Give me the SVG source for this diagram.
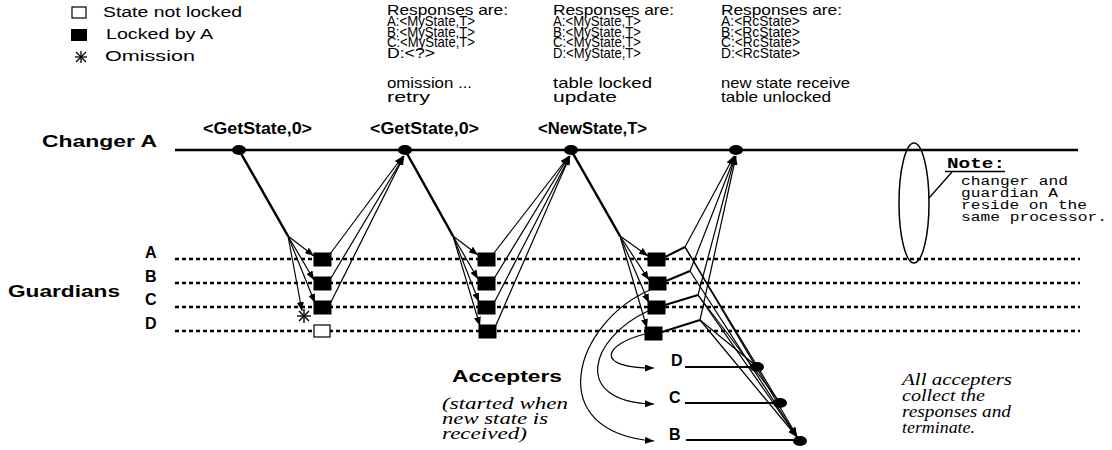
<svg xmlns="http://www.w3.org/2000/svg" width="1112" height="450" viewBox="0 0 1112 450">
<style>
.s{font-family:"Liberation Sans",Arial,sans-serif;fill:#000}
.b{font-family:"Liberation Sans",Arial,sans-serif;font-weight:bold;fill:#000}
.i{font-family:"Liberation Serif","Times New Roman",serif;font-style:italic;fill:#000}
.m{font-family:"Liberation Mono","Courier New",monospace;fill:#000}
.thick{stroke:#000;stroke-width:2.5;fill:none}
.thin{stroke:#000;stroke-width:1.2;fill:none}
.med{stroke:#000;stroke-width:2;fill:none}
.dot{stroke:#000;stroke-width:2.5;stroke-dasharray:4 3;fill:none}
.lk{fill:#000;stroke:#000;stroke-width:1}
</style>
<defs>
<marker id="ar" markerUnits="userSpaceOnUse" markerWidth="9" markerHeight="7" refX="9" refY="3.5" orient="auto">
<path d="M0,0 L9,3.5 L0,7 z" fill="#000"/>
</marker>
</defs>
<rect width="1112" height="450" fill="#fff"/>

<g id="legend">
<rect x="72" y="7" width="14" height="11" fill="#fff" stroke="#000" stroke-width="1.2"/>
<text class="s" x="103" y="17" font-size="15.5" textLength="139" lengthAdjust="spacingAndGlyphs">State not locked</text>
<rect x="71" y="29" width="16" height="12" fill="#000"/>
<text class="s" x="106" y="39" font-size="15.5" textLength="107" lengthAdjust="spacingAndGlyphs">Locked by A</text>
<g stroke="#000" stroke-width="1.3">
<line x1="75" y1="57" x2="87" y2="57"/><line x1="81" y1="51" x2="81" y2="63"/>
<line x1="76" y1="52" x2="86" y2="62"/><line x1="86" y1="52" x2="76" y2="62"/>
</g>
<text class="s" x="105" y="61" font-size="15.5" textLength="90" lengthAdjust="spacingAndGlyphs">Omission</text>
</g>

<g id="responses1">
<text class="s" font-size="14.5" lengthAdjust="spacingAndGlyphs"><tspan x="387" y="15" textLength="121" lengthAdjust="spacingAndGlyphs">Responses are:</tspan><tspan x="387" y="26" textLength="88" lengthAdjust="spacingAndGlyphs">A:&lt;MyState,T&gt;</tspan><tspan x="387" y="36.5" textLength="88" lengthAdjust="spacingAndGlyphs">B:&lt;MyState,T&gt;</tspan><tspan x="387" y="47" textLength="88" lengthAdjust="spacingAndGlyphs">C:&lt;MyState,T&gt;</tspan><tspan x="387" y="57.5" textLength="48" lengthAdjust="spacingAndGlyphs">D:&lt;?&gt;</tspan></text>
<text class="s" font-size="14.5"><tspan x="387" y="88" textLength="85" lengthAdjust="spacingAndGlyphs">omission ...</tspan><tspan x="387" y="102" textLength="43" lengthAdjust="spacingAndGlyphs">retry</tspan></text>
</g>

<g id="responses2">
<text class="s" font-size="14.5"><tspan x="553" y="15" textLength="121" lengthAdjust="spacingAndGlyphs">Responses are:</tspan><tspan x="553" y="26" textLength="88" lengthAdjust="spacingAndGlyphs">A:&lt;MyState,T&gt;</tspan><tspan x="553" y="36.5" textLength="88" lengthAdjust="spacingAndGlyphs">B:&lt;MyState,T&gt;</tspan><tspan x="553" y="47" textLength="88" lengthAdjust="spacingAndGlyphs">C:&lt;MyState,T&gt;</tspan><tspan x="553" y="57.5" textLength="88" lengthAdjust="spacingAndGlyphs">D:&lt;MyState,T&gt;</tspan></text>
<text class="s" font-size="14.5"><tspan x="553" y="88" textLength="99" lengthAdjust="spacingAndGlyphs">table locked</tspan><tspan x="553" y="102" textLength="64" lengthAdjust="spacingAndGlyphs">update</tspan></text>
</g>

<g id="responses3">
<text class="s" font-size="14.5"><tspan x="721" y="15" textLength="121" lengthAdjust="spacingAndGlyphs">Responses are:</tspan><tspan x="721" y="26" textLength="79" lengthAdjust="spacingAndGlyphs">A:&lt;RcState&gt;</tspan><tspan x="721" y="36.5" textLength="79" lengthAdjust="spacingAndGlyphs">B:&lt;RcState&gt;</tspan><tspan x="721" y="47" textLength="79" lengthAdjust="spacingAndGlyphs">C:&lt;RcState&gt;</tspan><tspan x="721" y="57.5" textLength="79" lengthAdjust="spacingAndGlyphs">D:&lt;RcState&gt;</tspan></text>
<text class="s" font-size="14.5"><tspan x="721" y="88" textLength="129" lengthAdjust="spacingAndGlyphs">new state receive</tspan><tspan x="721" y="102" textLength="110" lengthAdjust="spacingAndGlyphs">table unlocked</tspan></text>
</g>

<g id="changer">
<text class="b" x="42" y="147" font-size="17" textLength="115" lengthAdjust="spacingAndGlyphs">Changer A</text>
<line x1="175" y1="150" x2="1078" y2="150" class="thick"/>
<text class="b" x="203" y="134" font-size="16" textLength="109" lengthAdjust="spacingAndGlyphs">&lt;GetState,0&gt;</text>
<text class="b" x="370" y="134" font-size="16" textLength="109" lengthAdjust="spacingAndGlyphs">&lt;GetState,0&gt;</text>
<text class="b" x="538" y="134" font-size="16" textLength="109" lengthAdjust="spacingAndGlyphs">&lt;NewState,T&gt;</text>
<ellipse cx="239" cy="150" rx="7" ry="5"/>
<ellipse cx="405" cy="150" rx="7" ry="5"/>
<ellipse cx="571" cy="150" rx="7" ry="5"/>
<ellipse cx="736" cy="150" rx="7" ry="5"/>
</g>

<g id="guardians">
<text class="b" x="8" y="297" font-size="17" textLength="112" lengthAdjust="spacingAndGlyphs">Guardians</text>
<text class="b" x="145" y="258" font-size="16">A</text>
<text class="b" x="145" y="282" font-size="16">B</text>
<text class="b" x="145" y="305" font-size="16">C</text>
<text class="b" x="145" y="329" font-size="16">D</text>
<line x1="175" y1="259" x2="1080" y2="259" class="dot"/>
<line x1="175" y1="283" x2="1080" y2="283" class="dot"/>
<line x1="175" y1="307" x2="1080" y2="307" class="dot"/>
<line x1="175" y1="331" x2="1080" y2="331" class="dot"/>
</g>

<g id="note">
<ellipse cx="914" cy="203" rx="15" ry="60" fill="none" stroke="#000" stroke-width="1.5"/>
<line x1="929" y1="198" x2="952" y2="172" stroke="#000" stroke-width="1.3"/>
<text class="m" x="947" y="168" font-size="14" font-weight="bold" textLength="58" lengthAdjust="spacingAndGlyphs">Note:</text>
<line x1="945" y1="171.5" x2="1005" y2="171.5" stroke="#000" stroke-width="1.3"/>
<text class="m" font-size="12.5"><tspan x="961" y="185" textLength="107" lengthAdjust="spacingAndGlyphs">changer and</tspan><tspan x="961" y="197" textLength="97" lengthAdjust="spacingAndGlyphs">guardian A</tspan><tspan x="961" y="209" textLength="126" lengthAdjust="spacingAndGlyphs">reside on the</tspan><tspan x="961" y="221" textLength="146" lengthAdjust="spacingAndGlyphs">same processor.</tspan></text>
</g>

<g id="connectors">
<line x1="239" y1="150" x2="288" y2="236" class="thick"/>
<line x1="288" y1="236" x2="314" y2="256" class="thin" marker-end="url(#ar)"/>
<line x1="288" y1="236" x2="314" y2="280" class="thin" marker-end="url(#ar)"/>
<line x1="288" y1="236" x2="315" y2="303" class="thin" marker-end="url(#ar)"/>
<line x1="288" y1="236" x2="302" y2="311" class="thin" marker-end="url(#ar)"/>
<line x1="330" y1="254" x2="403" y2="156" class="thin" marker-end="url(#ar)"/>
<line x1="331" y1="278" x2="404" y2="156" class="thin" marker-end="url(#ar)"/>
<line x1="331" y1="302" x2="404" y2="156" class="thin" marker-end="url(#ar)"/>
<line x1="405" y1="150" x2="453" y2="236" class="thick"/>
<line x1="453" y1="236" x2="478" y2="255" class="thin" marker-end="url(#ar)"/>
<line x1="453" y1="236" x2="478" y2="279" class="thin" marker-end="url(#ar)"/>
<line x1="453" y1="236" x2="479" y2="302" class="thin" marker-end="url(#ar)"/>
<line x1="453" y1="236" x2="480" y2="326" class="thin" marker-end="url(#ar)"/>
<line x1="494" y1="253" x2="569" y2="156" class="thin" marker-end="url(#ar)"/>
<line x1="495" y1="277" x2="569" y2="156" class="thin" marker-end="url(#ar)"/>
<line x1="495" y1="301" x2="570" y2="156" class="thin" marker-end="url(#ar)"/>
<line x1="496" y1="325" x2="570" y2="156" class="thin" marker-end="url(#ar)"/>
<line x1="571" y1="150" x2="620" y2="236" class="thick"/>
<line x1="620" y1="236" x2="648" y2="256" class="thin" marker-end="url(#ar)"/>
<line x1="620" y1="236" x2="649" y2="280" class="thin" marker-end="url(#ar)"/>
<line x1="620" y1="236" x2="649" y2="303" class="thin" marker-end="url(#ar)"/>
<line x1="620" y1="236" x2="647" y2="328" class="thin" marker-end="url(#ar)"/>
<line x1="665" y1="257" x2="685" y2="247" class="med"/>
<line x1="666" y1="281" x2="690" y2="271" class="med"/>
<line x1="665" y1="305" x2="698" y2="295" class="med"/>
<line x1="662" y1="332" x2="700" y2="320" class="med"/>
<line x1="685" y1="247" x2="734" y2="156" class="thin" marker-end="url(#ar)"/>
<line x1="690" y1="271" x2="735" y2="156" class="thin" marker-end="url(#ar)"/>
<line x1="698" y1="295" x2="735" y2="156" class="thin" marker-end="url(#ar)"/>
<line x1="700" y1="320" x2="736" y2="156" class="thin" marker-end="url(#ar)"/>
<line x1="685" y1="247" x2="797" y2="436" class="thin" marker-end="url(#ar)"/>
<line x1="690" y1="271" x2="797" y2="437" class="thin" marker-end="url(#ar)"/>
<line x1="698" y1="295" x2="797" y2="437" class="thin" marker-end="url(#ar)"/>
<line x1="700" y1="320" x2="797" y2="437" class="thin" marker-end="url(#ar)"/>
<line x1="685" y1="247" x2="777" y2="399" class="thin"/>
<line x1="698" y1="295" x2="778" y2="400" class="thin"/>
<line x1="700" y1="320" x2="755" y2="365" class="thin"/>
<path d="M645,334 C605,344 592,368 654,368" class="thin" marker-end="url(#ar)"/>
<path d="M648,311 C590,338 570,402 654,404" class="thin" marker-end="url(#ar)"/>
<path d="M650,290 C575,322 540,432 654,441" class="thin" marker-end="url(#ar)"/>
</g>

<g id="phase1-guardians">
<rect x="314" y="253" width="17" height="13" class="lk"/>
<rect x="314" y="277" width="17" height="13" class="lk"/>
<rect x="314" y="301" width="17" height="13" class="lk"/>
<rect x="314" y="325" width="16" height="12" fill="#fff" stroke="#000" stroke-width="1.2"/>
<g stroke="#000" stroke-width="1.4">
<line x1="297" y1="316" x2="311" y2="316"/><line x1="304" y1="309" x2="304" y2="323"/>
<line x1="299" y1="311" x2="309" y2="321"/><line x1="309" y1="311" x2="299" y2="321"/>
</g>
</g>
<g id="phase2-guardians">
<rect x="478" y="253" width="17" height="13" class="lk"/>
<rect x="478" y="277" width="17" height="13" class="lk"/>
<rect x="478" y="301" width="17" height="13" class="lk"/>
<rect x="479" y="325" width="17" height="13" class="lk"/>
</g>
<g id="phase3-guardians">
<rect x="648" y="253" width="17" height="13" class="lk"/>
<rect x="649" y="277" width="17" height="13" class="lk"/>
<rect x="648" y="301" width="17" height="13" class="lk"/>
<rect x="645" y="327" width="17" height="13" class="lk"/>
</g>

<g id="accepters">
<text class="b" x="452" y="382" font-size="17" textLength="110" lengthAdjust="spacingAndGlyphs">Accepters</text>
<text class="i" font-size="16"><tspan x="442" y="409" textLength="126" lengthAdjust="spacingAndGlyphs">(started when</tspan><tspan x="442" y="424" textLength="106" lengthAdjust="spacingAndGlyphs">new state is</tspan><tspan x="442" y="439" textLength="85" lengthAdjust="spacingAndGlyphs">received)</tspan></text>
<text class="b" x="671" y="366" font-size="16">D</text>
<text class="b" x="669" y="403" font-size="16">C</text>
<text class="b" x="669" y="440" font-size="16">B</text>
<line x1="685" y1="367" x2="757" y2="367" class="med"/>
<line x1="685" y1="403" x2="780" y2="403" class="med"/>
<line x1="686" y1="440" x2="800" y2="440" class="med"/>
<ellipse cx="757" cy="367" rx="7" ry="5"/>
<ellipse cx="780" cy="403" rx="7" ry="5"/>
<ellipse cx="800" cy="441" rx="7" ry="5"/>
</g>

<g id="summary">
<text class="i" font-size="16"><tspan x="902" y="385" textLength="110" lengthAdjust="spacingAndGlyphs">All accepters</tspan><tspan x="902" y="401" textLength="83" lengthAdjust="spacingAndGlyphs">collect the</tspan><tspan x="902" y="417" textLength="109" lengthAdjust="spacingAndGlyphs">responses and</tspan><tspan x="902" y="433" textLength="73" lengthAdjust="spacingAndGlyphs">terminate.</tspan></text>
</g>
</svg>
